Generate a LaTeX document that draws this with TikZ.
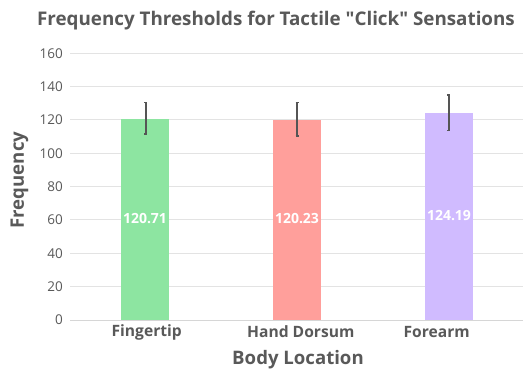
\documentclass[tikz,border=0pt]{standalone}
\usepackage{fontspec}
\setmainfont{Open Sans}
\newfontfamily\plainfont{Open Sans}
\definecolor{txt}{HTML}{595959}
\definecolor{grid}{HTML}{E3E3E3}
\definecolor{axisc}{HTML}{D6D6D6}
\definecolor{errc}{HTML}{555555}
\definecolor{cgreen}{HTML}{8DE5A1}
\definecolor{cred}{HTML}{FF9F9B}
\definecolor{cpurple}{HTML}{D0BBFF}
\tikzset{
  gridline/.style={draw=grid, line width=1pt},
  ticklab/.style={anchor=east, text=txt, font=\plainfont\fontsize{13.5}{14}\selectfont, inner sep=0pt},
  catlab/.style={text=txt, font=\plainfont\bfseries\fontsize{15.6}{16}\selectfont, inner sep=0pt},
  vallab/.style={text=white, font=\plainfont\bfseries\fontsize{14}{15}\selectfont, inner sep=0pt},
  axtitle/.style={text=txt, font=\plainfont\bfseries\fontsize{18.6}{20}\selectfont, inner sep=0pt},
  errbar/.style={draw=errc, line width=2pt},
  errcap/.style={draw=errc, line width=1.4pt},
}
\begin{document}
\begin{tikzpicture}[x=1pt,y=-1pt]
\useasboundingbox (0,0) rectangle (523,371);
\fill[white] (0,0) rectangle (523,371);
% gridlines and tick labels
\foreach \v in {20,40,...,160}{
  \draw[gridline] (70,{320-1.6667*\v}) -- (523,{320-1.6667*\v});
}
\foreach \v in {0,20,...,160}{
  \node[ticklab] (t\v) at (63,{320-1.6667*\v}) {\v};
}
% bars
\fill[cgreen] (121,320) rectangle (169,{320-1.6667*120.71});
\fill[cred] (273,320) rectangle (321,{320-1.6667*120.23});
\fill[cpurple] (425,320) rectangle (473,{320-1.6667*124.19});
% baseline
\draw[draw=axisc, line width=1pt] (70,320.5) -- (523,320.5);
% error bars
\draw[errbar] (145.5,102.7) -- (145.5,134);
\draw[errcap] (144,102.7) -- (147,102.7) (144,134) -- (147,134);
\draw[errbar] (297,102.3) -- (297,136);
\draw[errcap] (295.5,102.3) -- (298.5,102.3) (295.5,136) -- (298.5,136);
\draw[errbar] (448.8,95) -- (448.8,130.3);
\draw[errcap] (447.3,95) -- (450.3,95) (447.3,130.3) -- (450.3,130.3);
% value labels
\node[vallab] (v1) at (145,218.5) {120.71};
\node[vallab] (v2) at (297,218.5) {120.23};
\node[vallab] (v3) at (449,215.5) {124.19};
% category labels
\node[catlab] (c1) at (146.7,332) {Fingertip};
\node[catlab] (c2) at (300.8,332) {Hand Dorsum};
\node[catlab] (c3) at (436.7,332) {Forearm};
% axis titles
\node[axtitle] (xt) at (298,360) {Body Location};
\node[axtitle, rotate=90] (yt) at (19.5,180) {Frequency};
% title
\node[axtitle, font=\plainfont\bfseries\fontsize{18.8}{20}\selectfont] (title) at (276,20.5) {Frequency Thresholds for Tactile "Click" Sensations};
\end{tikzpicture}
\end{document}
